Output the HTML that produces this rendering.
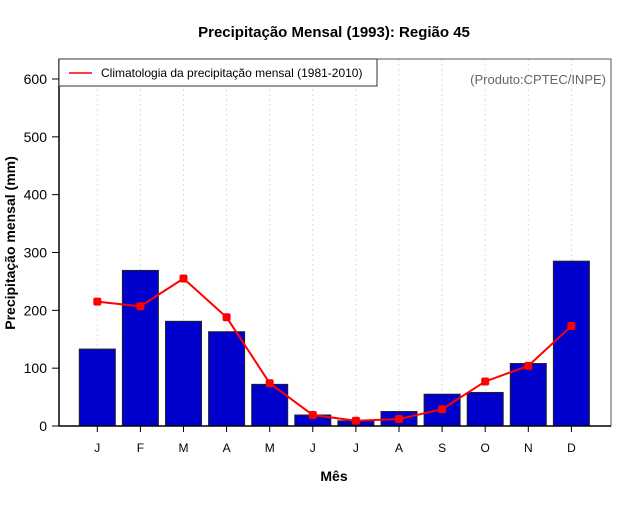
<!DOCTYPE html>
<html><head><meta charset="utf-8"><style>
body{margin:0;background:#fff}
svg text{font-family:"Liberation Sans",sans-serif}
</style></head><body>
<svg id="c" width="640" height="500" xmlns="http://www.w3.org/2000/svg">
<rect width="640" height="500" fill="#fff"/>
<text x="334" y="37" font-size="15" font-weight="bold" text-anchor="middle">Precipitação Mensal (1993): Região 45</text>
<g id="grid"></g>
<g id="bars"></g>
<g id="line"></g>
<rect x="59" y="59" width="552" height="367" fill="none" stroke="#555" stroke-width="1"/>
<line x1="59" y1="59" x2="59" y2="426" stroke="#000" stroke-width="1.5"/>
<line x1="59" y1="426" x2="611" y2="426" stroke="#000" stroke-width="1.5"/>
<g id="yaxis"></g>
<g id="xaxis"></g>
<text x="334" y="481" font-size="14" font-weight="bold" text-anchor="middle">Mês</text>
<text transform="translate(15,243) rotate(-90)" font-size="14" font-weight="bold" text-anchor="middle">Precipitação mensal (mm)</text>
<g>
<rect x="59" y="59" width="318" height="27" fill="#fff" stroke="#333"/>
<line x1="69" y1="73" x2="92" y2="73" stroke="red" stroke-width="1.5"/>
<text x="101" y="77" font-size="12">Climatologia da precipitação mensal (1981-2010)</text>
</g>
<text x="606" y="84" font-size="13" fill="#666" text-anchor="end">(Produto:CPTEC/INPE)</text>
</svg>
<script>
const months=["J","F","M","A","M","J","J","A","S","O","N","D"];
const precip=[133,269,181,163,72,19,9,25,55,58,108,285];
const clim=[215,207,255,188,74,19,9,12,29,77,104,173];
const yTicks=[0,100,200,300,400,500,600];
const NS="http://www.w3.org/2000/svg";
const x=i=>97.3+i*43.1;
const y=v=>426-v*(347/600);
function mk(t,a,p){const e=document.createElementNS(NS,t);for(const k in a)e.setAttribute(k,a[k]);p.appendChild(e);return e;}
const G=document.getElementById('grid'),B=document.getElementById('bars'),L=document.getElementById('line'),YA=document.getElementById('yaxis'),XA=document.getElementById('xaxis');
months.forEach((m,i)=>{
 const g=mk('line',{x1:x(i),x2:x(i),y1:59,y2:426,stroke:'#ddd','stroke-dasharray':'2,3'},G);
 
 
 const b=mk('rect',{x:x(i)-18,y:y(precip[i]),width:36,height:426-y(precip[i]),fill:'#0000cc',stroke:'#222','stroke-width':1},B);
 
 
 const t=mk('line',{x1:x(i),x2:x(i),y1:426,y2:432,stroke:'#000'},XA);
 
 
 const lb=mk('text',{x:x(i),y:452,'font-size':12,'text-anchor':'middle'},XA);lb.textContent=m;
 
 
});
const pl=mk('polyline',{points:clim.map((v,i)=>x(i)+','+y(v)).join(' '),fill:'none',stroke:'red','stroke-width':2},L);


clim.forEach((v,i)=>{
 const p=mk('rect',{x:x(i)-4,y:y(v)-4,width:8,height:8,rx:2,fill:'red'},L);
 
 
});
yTicks.forEach(v=>{
 const t=mk('line',{x1:52,x2:59,y1:y(v),y2:y(v),stroke:'#000'},YA);
 
 
 const lb=mk('text',{x:47,y:y(v)+5,'font-size':14,'text-anchor':'end'},YA);lb.textContent=v;
 
 
});
</script>
</body></html>
